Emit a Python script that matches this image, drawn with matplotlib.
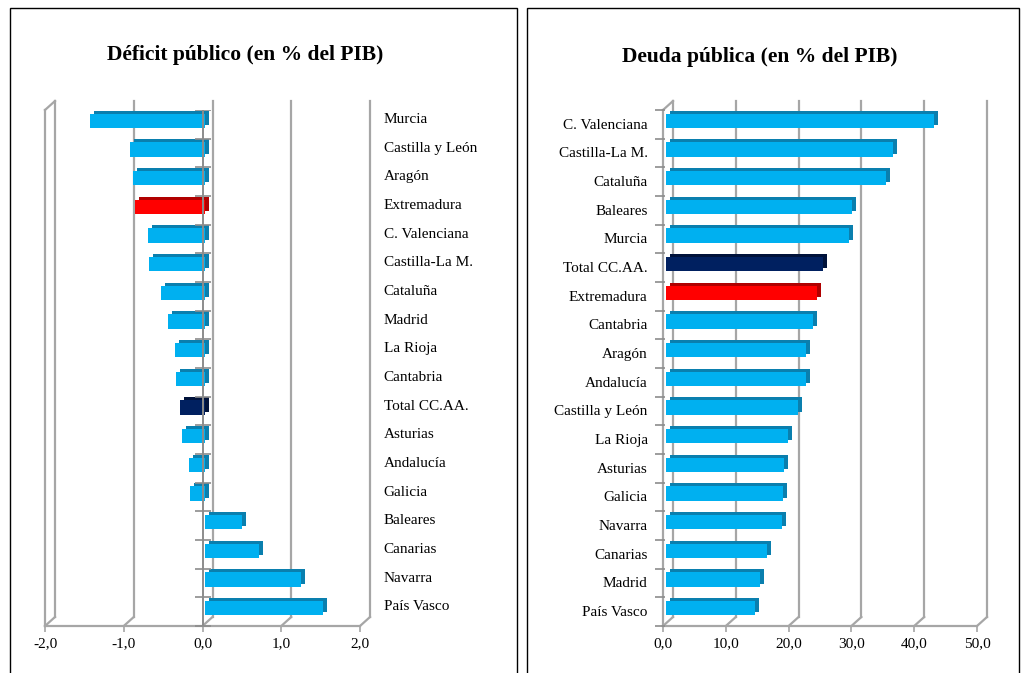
import numpy as np
import matplotlib
matplotlib.use("Agg")
import matplotlib.pyplot as plt
import matplotlib.transforms as mtransforms
from matplotlib.patches import Rectangle

# ---------------- data ----------------
deficit_cats = ["Murcia", "Castilla y León", "Aragón", "Extremadura", "C. Valenciana",
                "Castilla-La M.", "Cataluña", "Madrid", "La Rioja", "Cantabria",
                "Total CC.AA.", "Asturias", "Andalucía", "Galicia", "Baleares",
                "Canarias", "Navarra", "País Vasco"]
deficit_vals = [-1.45, -0.94, -0.91, -0.88, -0.72, -0.71, -0.55, -0.46, -0.38, -0.36,
                -0.31, -0.29, -0.20, -0.19, 0.48, 0.69, 1.23, 1.51]
deficit_ticks = [-2.0, -1.0, 0.0, 1.0, 2.0]
deficit_ticklabels = ["-2,0", "-1,0", "0,0", "1,0", "2,0"]

debt_cats = ["C. Valenciana", "Castilla-La M.", "Cataluña", "Baleares", "Murcia",
             "Total CC.AA.", "Extremadura", "Cantabria", "Aragón", "Andalucía",
             "Castilla y León", "La Rioja", "Asturias", "Galicia", "Navarra",
             "Canarias", "Madrid", "País Vasco"]
debt_vals = [42.7, 36.1, 35.0, 29.6, 29.1, 25.0, 24.0, 23.4, 22.3, 22.3,
             21.0, 19.4, 18.8, 18.6, 18.5, 16.1, 15.0, 14.2]
debt_ticks = [0, 10, 20, 30, 40, 50]
debt_ticklabels = ["0,0", "10,0", "20,0", "30,0", "40,0", "50,0"]

# ---------------- style ----------------
W, H = 1023, 673
DPI = 100
SERIF = ["Liberation Serif", "DejaVu Serif"]
CYAN, CYAN_D = "#00B0F0", "#0A7FAE"
RED, RED_D = "#FF0000", "#B00000"
NAVY, NAVY_D = "#002060", "#00123A"
GRID = "#A6A6A6"


def colors_for(cats):
    face, dark = [], []
    for c in cats:
        if c == "Extremadura":
            face.append(RED); dark.append(RED_D)
        elif c == "Total CC.AA.":
            face.append(NAVY); dark.append(NAVY_D)
        else:
            face.append(CYAN); dark.append(CYAN_D)
    return face, dark


fig = plt.figure(figsize=(W / DPI, H / DPI), dpi=DPI)
fig.patch.set_facecolor("white")

# panel frames
fig.add_artist(Rectangle((10 / W, -0.1), 507 / W, (H - 8) / H + 0.1, transform=fig.transFigure,
                         fill=False, ec="black", lw=1.0))
fig.add_artist(Rectangle((527 / W, -0.1), 492 / W, (H - 8) / H + 0.1, transform=fig.transFigure,
                         fill=False, ec="black", lw=1.0))


def panel(x0, x1, cats, vals, ticks, ticklabels, title, title_x, title_y, labels_right,
          cat_axis_x, label_shift, bar_shift_px):
    ytop, ybot = 110, 626
    ax = fig.add_axes([x0 / W, (H - ybot) / H, (x1 - x0) / W, (ybot - ytop) / H])
    n = len(cats)
    xmin, xmax = ticks[0], ticks[-1]
    ax.set_xlim(xmin, xmax)
    ax.set_ylim(n - 0.5, -0.5)
    for s in ax.spines.values():
        s.set_visible(False)
    ax.set_facecolor("none")

    DX, DY = 10, 9  # back-wall offset in pixels
    back = ax.get_xaxis_transform() + mtransforms.ScaledTranslation(DX / DPI, DY / DPI, fig.dpi_scale_trans)
    dx_data = DX / (x1 - x0) * (xmax - xmin)
    dy_ax = DY / (ybot - ytop)
    xt = ax.get_xaxis_transform()
    for t in ticks:
        ax.plot([t, t], [0, 1], transform=back, color=GRID, lw=1.6, clip_on=False, zorder=1)
        ax.plot([t, t + dx_data], [0, dy_ax], transform=xt, color=GRID, lw=1.6, clip_on=False, zorder=1)
    # left wall front edge and top diagonal
    ax.plot([xmin, xmin], [0, 1], transform=xt, color=GRID, lw=1.6, clip_on=False, zorder=1)
    ax.plot([xmin, xmin + dx_data], [1, 1 + dy_ax], transform=xt, color=GRID, lw=1.6, clip_on=False, zorder=1)
    # floor front edge
    ax.plot([xmin, xmax], [0, 0], transform=xt, color=GRID, lw=1.6, clip_on=False, zorder=1)

    # category axis line + boundary ticks
    bounds = np.arange(n + 1) - 0.5
    if cat_axis_x != xmin:
        ax.plot([cat_axis_x, cat_axis_x], [n - 0.5, -0.5], color="#8C8C8C", lw=1.4, zorder=4)
        ax.plot(np.full(len(bounds), cat_axis_x), bounds, ls="none", marker="_", ms=12,
                mew=1.2, color="#8C8C8C", zorder=4)
    else:
        ax.plot(np.full(len(bounds), cat_axis_x), bounds, ls="none", marker="_", ms=7,
                mew=1.2, color="#8C8C8C", zorder=4, clip_on=False,
                transform=ax.transData + mtransforms.ScaledTranslation(-3 / DPI, 0, fig.dpi_scale_trans))

    # bars with a simple 3D depth
    face, dark = colors_for(cats)
    pos = np.arange(n) - 0.12
    shift = mtransforms.ScaledTranslation(bar_shift_px / DPI, 0, fig.dpi_scale_trans)
    depth = ax.transData + mtransforms.ScaledTranslation((bar_shift_px + 4) / DPI, 3 / DPI, fig.dpi_scale_trans)
    ax.barh(pos, vals, height=0.5, color=dark, transform=depth, zorder=2)
    ax.barh(pos, vals, height=0.5, color=face, transform=ax.transData + shift, zorder=3)

    # ticks / labels
    ax.set_xticks(ticks)
    ax.set_xticklabels(ticklabels, fontsize=11, family=SERIF)
    ax.tick_params(axis="x", length=4, color=GRID, width=1.2, pad=4)
    ax.set_yticks(pos + label_shift)
    ax.set_yticklabels(cats, fontsize=11, family=SERIF)
    if labels_right:
        ax.yaxis.tick_right()
        ax.tick_params(axis="y", length=0, pad=17)
        for lab in ax.get_yticklabels():
            lab.set_horizontalalignment("left")
    else:
        ax.tick_params(axis="y", length=0, pad=11)
    fig.text(title_x / W, 1 - title_y / H, title, ha="center", va="center",
             fontsize=15.5, fontweight="bold", family=SERIF)
    return ax


panel(45, 360, deficit_cats, deficit_vals, deficit_ticks, deficit_ticklabels,
      "Déficit público (en % del PIB)", 245, 55, True, 0.0, -0.1, 2)
panel(663, 977, debt_cats, debt_vals, debt_ticks, debt_ticklabels,
      "Deuda pública (en % del PIB)", 760, 57, False, 0.0, 0.1, 3)

fig.savefig("out.png", dpi=DPI)
